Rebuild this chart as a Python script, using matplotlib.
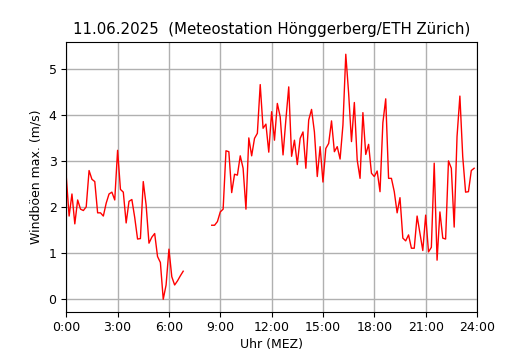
import numpy as np
import matplotlib
matplotlib.use("Agg")
import matplotlib.pyplot as plt

# 10-minute values, 0:00 .. 23:50 (NaN = no data)
nan = np.nan
gust = [
    2.67, 1.81, 2.29, 1.64, 2.16, 1.96,   # 0:00-0:50
    1.93, 2.01, 2.80, 2.61, 2.56, 1.88,   # 1:00-1:50
    1.88, 1.81, 2.09, 2.29, 2.33, 2.16,   # 2:00-2:50
    3.24, 2.39, 2.33, 1.66, 2.13, 2.17,   # 3:00-3:50
    1.78, 1.31, 1.32, 2.56, 2.05, 1.22,   # 4:00-4:50
    1.35, 1.43, 0.93, 0.80, 0.00, 0.31,   # 5:00-5:50
    1.09, 0.49, 0.31, 0.40, 0.51, 0.61,   # 6:00-6:50
    nan, nan, nan, nan, nan, nan,         # 7:00-7:50
    nan, nan, nan, 1.61, 1.61, 1.69,      # 8:00-8:50
    1.90, 1.96, 3.23, 3.21, 2.32, 2.72,   # 9:00-9:50
    2.70, 3.12, 2.85, 1.96, 3.51, 3.12,   # 10:00-10:50
    3.50, 3.61, 4.67, 3.72, 3.81, 3.20,   # 11:00-11:50
    4.08, 3.46, 4.26, 3.97, 3.14, 3.91,   # 12:00-12:50
    4.62, 3.11, 3.46, 2.93, 3.50, 3.64,   # 13:00-13:50
    2.85, 3.90, 4.13, 3.64, 2.67, 3.32,   # 14:00-14:50
    2.55, 3.28, 3.39, 3.88, 3.21, 3.32,   # 15:00-15:50
    3.05, 3.79, 5.33, 4.48, 3.43, 4.28,   # 16:00-16:50
    3.03, 2.63, 4.06, 3.15, 3.37, 2.74,   # 17:00-17:50
    2.67, 2.79, 2.34, 3.84, 4.36, 2.63,   # 18:00-18:50
    2.63, 2.34, 1.88, 2.21, 1.33, 1.27,   # 19:00-19:50
    1.40, 1.11, 1.11, 1.81, 1.43, 1.06,   # 20:00-20:50
    1.83, 1.03, 1.13, 2.96, 0.85, 1.90,   # 21:00-21:50
    1.33, 1.31, 3.01, 2.85, 1.57, 3.54,   # 22:00-22:50
    4.42, 3.10, 2.33, 2.34, 2.80, 2.85,   # 23:00-23:50
]
hours = np.arange(len(gust)) / 6.0

tick_hours = [0, 3, 6, 9, 12, 15, 18, 21, 24]
tick_labels = ["0:00", "3:00", "6:00", "9:00", "12:00", "15:00", "18:00", "21:00", "24:00"]
title = "11.06.2025  (Meteostation Hönggerberg/ETH Zürich)"

fig, ax = plt.subplots(figsize=(5.3, 3.5), dpi=100)
ax.plot(hours, gust, color="red", linewidth=1.0)
ax.set_xlim(0, 24)
ax.set_xticks(tick_hours)
ax.set_xticklabels(tick_labels)
ax.grid(True, color="#b0b0b0", linewidth=1.0)
ax.set_axisbelow(True)
ax.set_title(title, fontsize=10.8)
ax.set_xlabel("Uhr (MEZ)", fontsize=9, labelpad=2.5)
ax.set_ylabel("Windböen max. (m/s)", fontsize=9)
ax.tick_params(labelsize=9)
fig.subplots_adjust(left=0.125, right=0.9, top=0.88, bottom=0.11)
fig.savefig("out.png", dpi=100)
